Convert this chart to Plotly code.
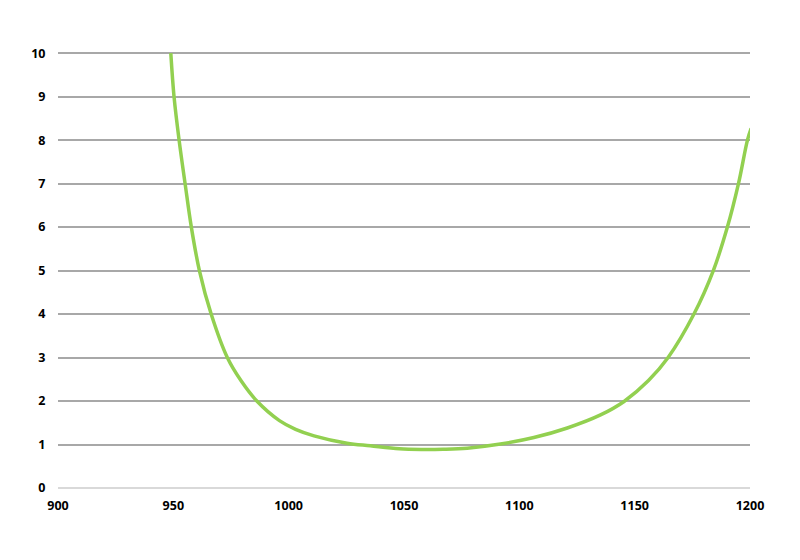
import plotly.graph_objects as go

x_vals = [948.9, 950.3, 952.5, 955.1, 957.8, 961.3, 966.4, 973.4, 979.3,
          986.2, 996.0, 1003.0, 1011.0, 1025.3, 1035.4, 1048.0, 1058.0, 1067.0, 1077.4,
          1091.8, 1106.3, 1120.8, 1135.2, 1145.4, 1156.0, 1164.5, 1175.7, 1184.1,
          1190.2, 1195.0, 1198.9, 1200.5]
y_vals = [10, 9, 8, 7, 6, 5, 4, 3, 2.47,
          2, 1.55, 1.35, 1.2, 1.03, 0.97, 0.90, 0.885, 0.89, 0.915,
          1.01, 1.16, 1.38, 1.68, 1.99, 2.47, 3, 4, 5,
          6, 7, 8, 8.27]

x_ticks = [900, 950, 1000, 1050, 1100, 1150, 1200]
y_ticks = [0, 1, 2, 3, 4, 5, 6, 7, 8, 9, 10]

fig = go.Figure()
fig.add_trace(go.Scatter(
    x=x_vals, y=y_vals, mode="lines",
    line=dict(color="#92D050", width=3.5, shape="spline", smoothing=1.0),
    cliponaxis=False, hoverinfo="skip", showlegend=False,
))

tickfont = dict(family="Open Sans", size=12.5, color="#000000", weight="bold")

fig.update_layout(
    width=800, height=560,
    margin=dict(l=50, r=58, t=43, b=80),
    paper_bgcolor="white", plot_bgcolor="white",
    xaxis=dict(
        range=[900, 1200], tickvals=x_ticks, ticktext=[str(v) for v in x_ticks],
        showgrid=False, zeroline=False, showline=False,
        tickfont=tickfont, ticks="outside", ticklen=6, tickcolor="rgba(0,0,0,0)",
    ),
    yaxis=dict(
        range=[0, 10.05], tickvals=y_ticks, ticktext=[str(v) for v in y_ticks],
        showgrid=True, gridcolor="#a8a8a8", gridwidth=1.5,
        zeroline=True, zerolinecolor="#d9d9d9", zerolinewidth=1.5,
        showline=False, tickfont=tickfont,
        ticks="outside", ticklen=9, tickcolor="rgba(0,0,0,0)",
    ),
)

fig.write_html("out.html")
